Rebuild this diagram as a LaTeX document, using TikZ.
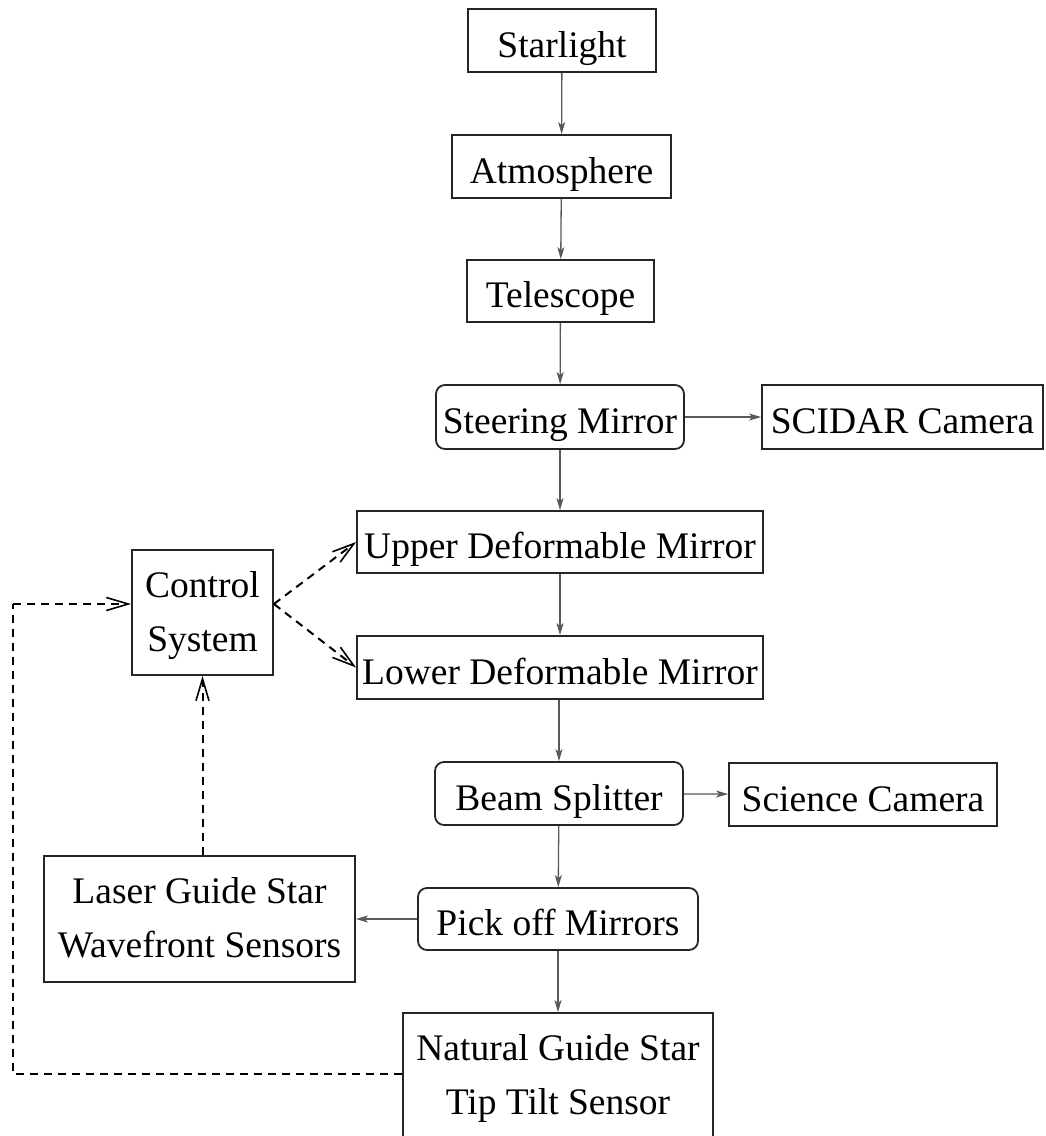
\documentclass[tikz,border=0pt]{standalone}
\usepackage{fontspec}
\setmainfont{Liberation Serif}
\usetikzlibrary{arrows.meta}
\newcommand{\twoline}[2]{\begin{tabular}[t]{@{}c@{}}#1\\#2\end{tabular}}
\begin{document}
\begin{tikzpicture}[x=1pt,y=-1pt,
  box/.style={draw=black!85, line width=1.8pt, inner sep=0pt, align=center,
    font=\fontsize{37.5}{54}\selectfont, text height=33pt, text depth=0pt},
  box2/.style={box, text height=25pt, text depth=56pt},
  rbox/.style={box, rounded corners=9pt},
  flow/.style={draw=black!65, line width=1.3pt,
    -{Stealth[length=12pt,width=7pt,inset=3pt]}},
  ctl/.style={draw=black, line width=2pt, dash pattern=on 8pt off 6pt,
    -{Straight Barb[length=22pt,width=13pt,line width=1.6pt]}},
  loopline/.style={draw=black, line width=2pt, dash pattern=on 8pt off 6pt}]
\useasboundingbox (0,0) rectangle (1045,1136);
\fill[white] (0,0) rectangle (1045,1136);

\node[box, minimum width=188pt, minimum height=63pt] (star) at (562,40.5) {Starlight};
\node[box, minimum width=219pt, minimum height=63pt] (atm) at (561.5,166.5) {Atmosphere};
\node[box, minimum width=187pt, minimum height=62pt] (tel) at (560.5,291) {Telescope};
\node[rbox, minimum width=248pt, minimum height=64pt] (steer) at (560,417) {Steering Mirror};
\node[box, minimum width=281pt, minimum height=64pt] (scidar) at (902.5,417) {SCIDAR Camera};
\node[box, minimum width=406pt, minimum height=62pt] (upd) at (560,542) {Upper Deformable Mirror};
\node[box, minimum width=406pt, minimum height=63pt] (lowd) at (560,667.5) {Lower Deformable Mirror};
\node[box2, minimum width=141pt, minimum height=125pt] (ctrl) at (202.5,612.5) {\twoline{Control}{System}};
\node[rbox, minimum width=248pt, minimum height=63pt] (beam) at (559,793.5) {Beam Splitter};
\node[box, minimum width=268pt, minimum height=63pt] (sci) at (863,794.5) {Science Camera};
\node[rbox, minimum width=280pt, minimum height=62pt] (pick) at (558,919) {Pick off Mirrors};
\node[box2, minimum width=311pt, minimum height=126pt] (lgs) at (199.5,919) {\twoline{Laser Guide Star}{Wavefront Sensors}};
\node[box2, minimum width=310pt, minimum height=127pt, text height=23pt] (ngs) at (558,1076.5) {\twoline{Natural Guide Star}{Tip Tilt Sensor}};

\draw[flow] (star) -- (atm);
\draw[flow] (atm) -- (tel);
\draw[flow] (tel) -- (steer);
\draw[flow] (steer) -- (scidar);
\draw[flow] (steer) -- (upd);
\draw[flow] (upd) -- (lowd);
\draw[flow] (lowd.south -| beam.north) -- (beam);
\draw[flow] (beam) -- (sci);
\draw[flow] (beam) -- (pick);
\draw[flow] (pick) -- (lgs);
\draw[flow] (pick) -- (pick.south |- ngs.north);

\coordinate (cout) at ([yshift=8.5pt]ctrl.east);
\coordinate (cin) at ([yshift=8.5pt]ctrl.west);
\draw[ctl] (cout) -- (upd.west);
\draw[ctl] (cout) -- (lowd.west);
\draw[ctl] (lgs.north -| ctrl.south) -- (ctrl.south);
\coordinate (loopA) at (13,1074);
\coordinate (loopB) at (13,604);
\draw[loopline] (ngs.west |- loopA) -- (loopA) -- (loopB);
\draw[ctl] (loopB) -- (cin);
\end{tikzpicture}
\end{document}
